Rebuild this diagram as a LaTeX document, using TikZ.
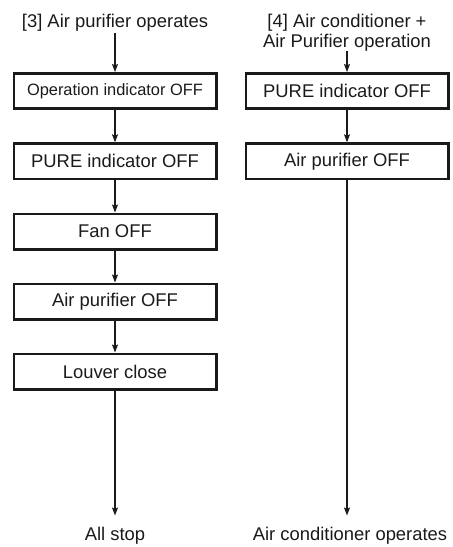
\documentclass[tikz,border=0pt]{standalone}
\usepackage{fontspec}
\setmainfont{Liberation Sans}
\usetikzlibrary{arrows.meta}
\definecolor{ink}{HTML}{1A1A1A}
\newcommand{\boxfont}{\fontsize{18.4}{20}\selectfont}
\newcommand{\smallboxfont}{\fontsize{16.4}{18}\selectfont}

\begin{document}
\begin{tikzpicture}[x=1pt,y=-1pt,
  schritt/.style={draw=ink,line width=2.6pt,minimum width=202.4pt,minimum height=35.4pt,inner sep=0,font=\boxfont,text=ink},
  titel/.style={anchor=base,inner sep=0,font=\boxfont,text=ink},
  pfeil/.style={ink,line width=1.2pt,-{Stealth[length=8pt,width=6pt,inset=1.5pt]}}]
\useasboundingbox (0,0) rectangle (453,547);
% left: [3]
\node[titel] (t3) at (115,27) {[3] Air purifier operates};
\node[schritt,font=\smallboxfont] (a1) at (115,91) {Operation indicator OFF};
\node[schritt] (a2) at (115,161.3) {PURE indicator OFF};
\node[schritt] (a3) at (115,231.5) {Fan OFF};
\node[schritt] (a4) at (115,301.5) {Air purifier OFF};
\node[schritt] (a5) at (115,371.5) {Louver close};
\node[titel] (e3) at (115,540) {All stop};
\draw[pfeil,shorten <=1.5pt] (t3.south) -- (a1.north);
\foreach \i/\j in {a1/a2,a2/a3,a3/a4,a4/a5} \draw[pfeil] (\i.south) -- (\j.north);
\draw[pfeil,shorten >=11pt] (a5.south) -- (e3.north);
% right: [4]
\node[titel] (t4a) at (347,27) {[4] Air conditioner +};
\node[titel] (t4b) at (347,47) {Air Purifier operation};
\node[schritt] (b1) at (347,91) {PURE indicator OFF};
\node[schritt] (b2) at (347,161.3) {Air purifier OFF};
\node[titel] (e4) at (350,540) {Air conditioner operates};
\draw[pfeil] (t4b.south) -- (b1.north);
\draw[pfeil] (b1.south) -- (b2.north);
\draw[pfeil,shorten >=11pt] (b2.south) -- (b2.south |- e4.north);
\end{tikzpicture}
\end{document}
